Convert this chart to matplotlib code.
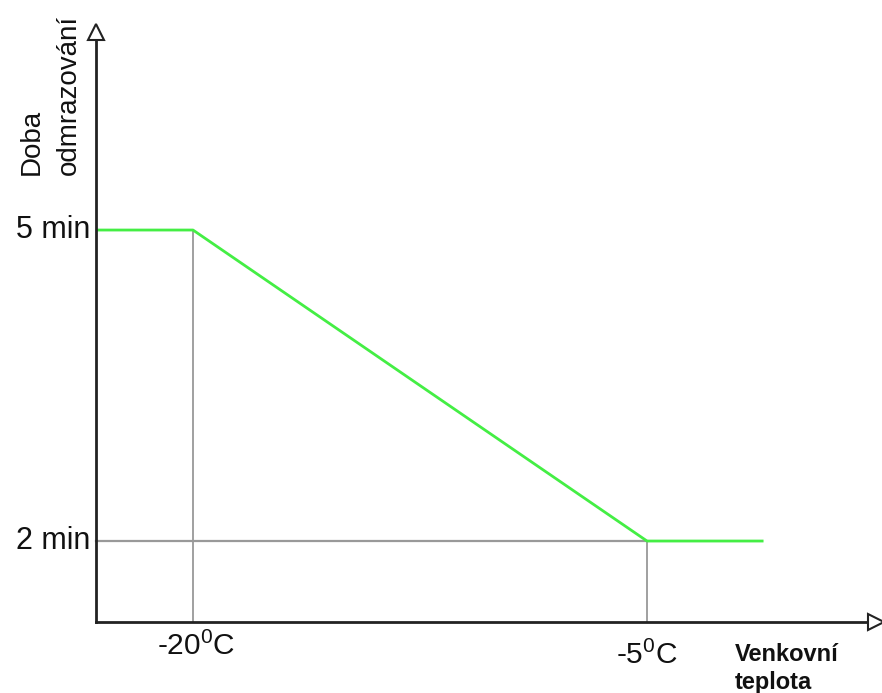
import matplotlib
matplotlib.use("Agg")
import matplotlib.pyplot as plt

plt.rcParams["font.family"] = ["Liberation Sans", "DejaVu Sans"]
plt.rcParams["mathtext.fontset"] = "custom"
plt.rcParams["mathtext.rm"] = "Liberation Sans"

# breakpoints of the defrost time curve
temps = [-23.2, -20, -5, -1.15]      # outdoor temperature, deg C
times = [5, 5, 2, 2]                 # defrost time, min
tick_temps = [-20, -5]
tick_temp_labels = [r"-20$\mathregular{^0}$C", r"-5$\mathregular{^0}$C"]
tick_times = [5, 2]
tick_time_labels = ["5 min", "2 min"]

x0, y0 = temps[0], 1.215            # axis origin
x_end, y_end = 2.7, 6.98            # arrow tips

fig = plt.figure(figsize=(8.82, 6.93), dpi=100)
ax = fig.add_axes([0, 0, 1, 1])
ax.set_xlim(-26.376, 2.764)
ax.set_ylim(0.534, 7.219)
ax.axis("off")

# helper lines
grey = "#999999"
ax.plot([tick_temps[0], tick_temps[0]], [y0, times[1]], color=grey, lw=1.3, zorder=1)
ax.plot([tick_temps[1], tick_temps[1]], [y0, times[2]], color=grey, lw=1.3, zorder=1)
ax.plot([x0, tick_temps[1]], [times[2], times[2]], color=grey, lw=1.6, zorder=1)

# the curve
ax.plot(temps, times, color="#44ee44", lw=2, zorder=3, solid_capstyle="butt")

# axes with open arrowheads
ax.plot([x0, x_end - 0.25], [y0, y0], color="#222222", lw=2, zorder=4, solid_capstyle="projecting")
ax.plot([x0, x0], [y0, y_end - 0.1], color="#222222", lw=2, zorder=4, solid_capstyle="projecting")
ax.plot([x0], [y_end - 0.07], marker="^", ms=12, mfc="white", mec="#222222", mew=1.5, zorder=5)
ax.plot([x_end - 0.15], [y0], marker=">", ms=12, mfc="white", mec="#222222", mew=1.5, zorder=5)

# tick labels
for t, lab in zip(tick_times, tick_time_labels):
    ax.annotate(lab, (x0, t), xytext=(-6, 0), textcoords="offset pixels",
                ha="right", va="center", fontsize=22, color="#111111")
ax.annotate(tick_temp_labels[0], (tick_temps[0], y0), xytext=(3, -24),
            textcoords="offset pixels", ha="center", va="center", fontsize=21.5, color="#111111")
ax.annotate(tick_temp_labels[1], (tick_temps[1], y0), xytext=(0, -33),
            textcoords="offset pixels", ha="center", va="center", fontsize=21.5, color="#111111")

# axis titles
ax.annotate("Venkovní", (x0, y0), xytext=(639, -32), textcoords="offset pixels",
            ha="left", va="center", fontsize=17, fontweight="bold", color="#111111")
ax.annotate("teplota", (x0, y0), xytext=(639, -60), textcoords="offset pixels",
            ha="left", va="center", fontsize=17, fontweight="bold", color="#111111")
ax.annotate("Doba", (x0, y0), xytext=(-64, 447), textcoords="offset pixels",
            ha="center", va="bottom", rotation=90, fontsize=20, color="#111111")
ax.annotate("odmrazování", (x0, y0), xytext=(-27, 447), textcoords="offset pixels",
            ha="center", va="bottom", rotation=90, fontsize=20, color="#111111")

fig.savefig("out.png", dpi=100)
